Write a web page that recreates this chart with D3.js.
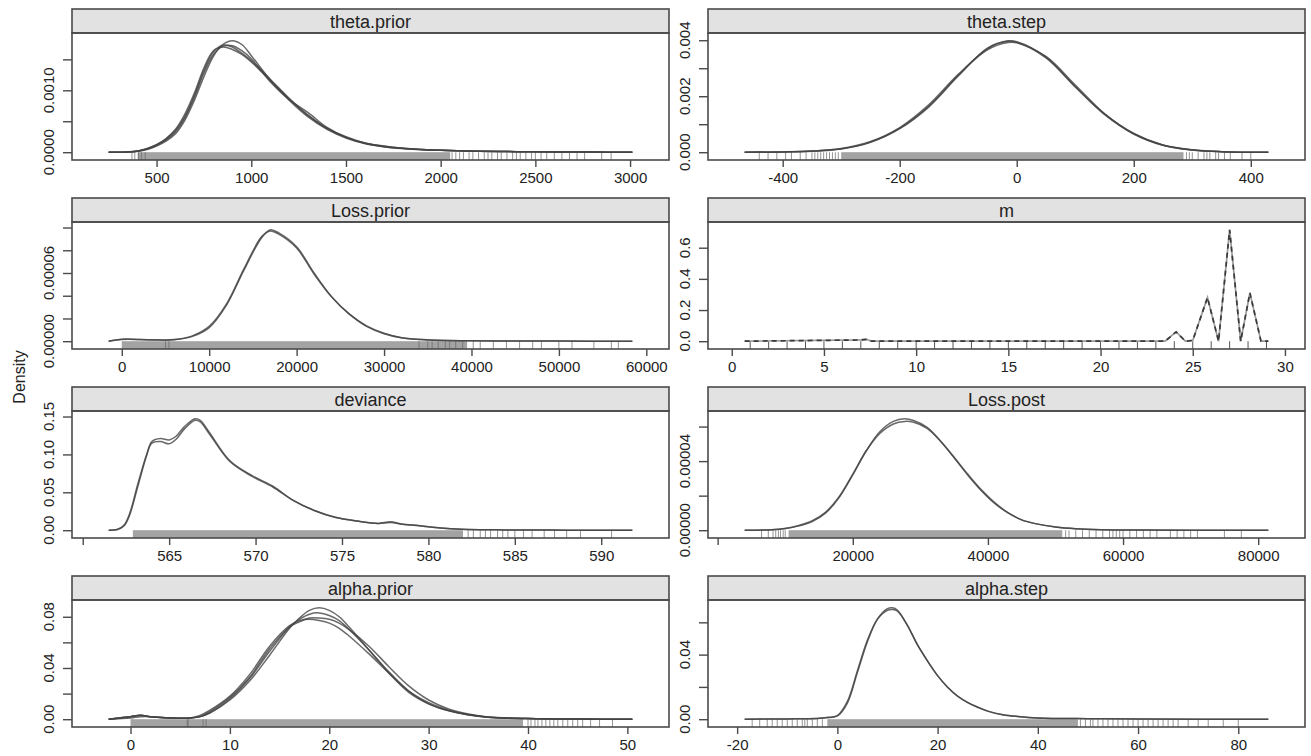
<!DOCTYPE html>
<html>
<head>
<meta charset="utf-8">
<script src="https://cdn.jsdelivr.net/npm/d3@7"></script>
<style>
  body { margin: 0; background: #fff; }
  text { font-family: "Liberation Sans", Arial, sans-serif; fill: #222; }
</style>
</head>
<body>
<div id="chart"></div>
<script>
'use strict';

// ---- data ----

// theta.prior (density in units of 1e-3)
const thetaPriorX = [247, 350, 400, 450, 500, 550, 600, 650, 700, 750, 800, 850, 900, 950, 1000, 1100, 1200, 1300, 1400, 1500, 1600, 1700, 1800, 1900, 2000, 2200, 2400, 2600, 2800, 3012];
const thetaPriorDens = [
  [0, 0.004, 0.015, 0.045, 0.10, 0.18, 0.30, 0.52, 0.84, 1.22, 1.55, 1.74, 1.80, 1.74, 1.56, 1.17, 0.84, 0.57, 0.37, 0.23, 0.14, 0.09, 0.06, 0.04, 0.03, 0.016, 0.009, 0.005, 0.002, 0],
  [0, 0.005, 0.020, 0.060, 0.12, 0.22, 0.37, 0.62, 0.96, 1.36, 1.64, 1.70, 1.66, 1.58, 1.46, 1.16, 0.86, 0.59, 0.39, 0.25, 0.15, 0.10, 0.065, 0.045, 0.032, 0.017, 0.009, 0.005, 0.002, 0],
  [0, 0.004, 0.017, 0.050, 0.11, 0.20, 0.33, 0.56, 0.89, 1.28, 1.58, 1.71, 1.72, 1.64, 1.51, 1.14, 0.85, 0.64, 0.40, 0.24, 0.14, 0.09, 0.06, 0.042, 0.03, 0.016, 0.009, 0.005, 0.002, 0],
  [0, 0.005, 0.018, 0.055, 0.12, 0.21, 0.35, 0.58, 0.92, 1.32, 1.62, 1.73, 1.70, 1.60, 1.48, 1.18, 0.87, 0.60, 0.38, 0.24, 0.15, 0.095, 0.062, 0.043, 0.03, 0.016, 0.009, 0.005, 0.002, 0]
];
const thetaPriorRugBand = [400, 2050];
const thetaPriorRug = [370, 385, 405, 420, 440, 2060, 2080, 2100, 2120, 2150, 2170, 2200, 2230, 2250, 2270, 2300, 2320, 2350, 2380, 2400, 2420, 2450, 2480, 2500, 2530, 2560, 2600, 2640, 2680, 2720, 2760, 2850, 2900];

// theta.step (1e-3)
const thetaStepX = [-465, -400, -350, -300, -250, -200, -150, -100, -50, -15, 0, 50, 100, 150, 200, 250, 300, 350, 430];
const thetaStepDens = [
  [0, 0.01, 0.04, 0.12, 0.36, 0.85, 1.65, 2.75, 3.70, 3.98, 3.95, 3.40, 2.35, 1.35, 0.65, 0.25, 0.08, 0.02, 0],
  [0, 0.01, 0.04, 0.13, 0.38, 0.88, 1.70, 2.78, 3.66, 3.92, 3.91, 3.42, 2.40, 1.38, 0.66, 0.25, 0.08, 0.02, 0],
  [0, 0.01, 0.03, 0.11, 0.35, 0.84, 1.62, 2.72, 3.72, 3.96, 3.93, 3.37, 2.33, 1.36, 0.67, 0.26, 0.09, 0.02, 0]
];
const thetaStepRugBand = [-300, 285];
const thetaStepRug = [-440, -425, -410, -395, -385, -370, -360, -350, -345, -340, -335, -330, -325, -320, -315, -310, -305, 290, 295, 300, 310, 320, 325, 330, 340, 345, 355, 365, 385, 400];

// Loss.prior (1e-5)
const lossPriorX = [-1500, 0, 2000, 4000, 6000, 8000, 10000, 12000, 14000, 16000, 17000, 18000, 20000, 22000, 24000, 26000, 28000, 30000, 32000, 35000, 40000, 45000, 50000, 58400];
const lossPriorDens = [
  [0, 0.18, 0.15, 0.10, 0.12, 0.40, 1.2, 3.2, 6.3, 9.1, 9.8, 9.5, 8.3, 6.0, 3.9, 2.4, 1.30, 0.65, 0.30, 0.10, 0.03, 0.015, 0.01, 0],
  [0, 0.15, 0.15, 0.12, 0.14, 0.45, 1.3, 3.3, 6.4, 9.2, 9.7, 9.4, 8.2, 5.9, 3.9, 2.4, 1.35, 0.70, 0.30, 0.12, 0.03, 0.015, 0.01, 0]
];
const lossPriorRugBand = [0, 39500];
const lossPriorRug = [5000, 5400, 34000, 35000, 35500, 36200, 37000, 37500, 38200, 39000, 40200, 41000, 42500, 44000, 45500, 47000, 48000, 50000, 51500, 54000, 56000, 56800];

// m (discrete)
const mX = [0.7, 7.0, 7.3, 7.6, 23.5, 24.1, 24.6, 25.0, 25.8, 26.4, 27.0, 27.6, 28.1, 28.7, 29.1];
const mDens = [
  [0, 0.008, 0.012, 0, 0, 0.06, 0, 0.005, 0.28, 0, 0.715, 0, 0.31, 0, 0]
];
const mRug = [1, 2, 3, 4, 5, 6, 7, 8, 9, 10, 11, 12, 13, 14, 15, 16, 17, 18, 19, 20, 21, 22, 23, 24, 25, 26, 27, 28, 29];

// deviance
const devianceX = [561.5, 562.0, 562.4, 562.7, 563.2, 563.7, 564.0, 564.5, 565.0, 565.4, 565.9, 566.5, 566.8, 567.3, 568.5, 569.8, 571.0, 572.2, 573.4, 574.6, 575.9, 577.1, 577.8, 578.5, 579.5, 580.7, 581.9, 584.4, 588, 591.8];
const devianceDens = [
  [0, 0.001, 0.006, 0.019, 0.059, 0.099, 0.117, 0.121, 0.119, 0.124, 0.137, 0.147, 0.145, 0.130, 0.092, 0.072, 0.058, 0.039, 0.026, 0.017, 0.012, 0.009, 0.010, 0.008, 0.006, 0.003, 0.0013, 0.0004, 0.0001, 0],
  [0, 0.001, 0.007, 0.021, 0.062, 0.100, 0.115, 0.117, 0.114, 0.120, 0.134, 0.145, 0.143, 0.128, 0.091, 0.071, 0.057, 0.039, 0.026, 0.017, 0.012, 0.009, 0.011, 0.008, 0.006, 0.003, 0.0013, 0.0004, 0.0001, 0]
];
const devianceRugBand = [562.9, 582];
const devianceRug = [582.3, 582.6, 583, 583.3, 583.6, 584, 584.3, 584.6, 585, 585.5, 586, 586.7, 587.3, 588, 588.8, 590.6];

// Loss.post (1e-5)
const lossPostX = [4000, 8000, 10000, 12000, 14000, 16000, 18000, 20000, 22000, 24000, 26000, 27700, 29000, 31000, 33000, 35000, 37000, 39000, 41000, 43000, 45000, 47000, 50000, 53000, 57000, 62000, 70000, 81500];
const lossPostDens = [
  [0, 0.03, 0.10, 0.25, 0.50, 1.00, 1.90, 3.20, 4.60, 5.70, 6.30, 6.45, 6.35, 5.95, 5.15, 4.20, 3.20, 2.30, 1.55, 1.00, 0.60, 0.38, 0.18, 0.08, 0.03, 0.01, 0.003, 0],
  [0, 0.03, 0.10, 0.27, 0.55, 1.05, 1.95, 3.25, 4.60, 5.60, 6.15, 6.30, 6.25, 5.90, 5.15, 4.22, 3.25, 2.35, 1.60, 1.00, 0.60, 0.38, 0.18, 0.08, 0.03, 0.01, 0.003, 0]
];
const lossPostRugBand = [10500, 51000];
const lossPostRug = [6500, 7500, 8200, 8600, 9000, 9300, 9700, 10000, 51500, 52000, 53000, 54000, 55000, 56000, 57000, 58000, 58500, 59000, 59500, 60000, 61000, 62000, 63000, 64000, 65000, 67000, 68000, 69000, 70000, 71000, 75000, 77500];

// alpha.prior
const alphaPriorX = [-2.2, 0, 1, 2, 4, 6, 7, 8, 10, 12, 14, 16, 17, 18, 19, 20, 21, 22, 24, 26, 28, 30, 32, 34, 36, 40, 45, 50.5];
const alphaPriorDens = [
  [0, 0.002, 0.003, 0.002, 0.001, 0.001, 0.002, 0.005, 0.015, 0.030, 0.050, 0.071, 0.079, 0.085, 0.087, 0.085, 0.080, 0.072, 0.054, 0.036, 0.021, 0.012, 0.0065, 0.0033, 0.0015, 0.0005, 0.0001, 0],
  [0, 0.002, 0.003, 0.002, 0.001, 0.001, 0.002, 0.005, 0.016, 0.032, 0.053, 0.072, 0.078, 0.082, 0.083, 0.081, 0.077, 0.070, 0.054, 0.037, 0.022, 0.012, 0.0068, 0.0035, 0.0015, 0.0005, 0.0001, 0],
  [0, 0.001, 0.002, 0.002, 0.001, 0.001, 0.002, 0.006, 0.017, 0.033, 0.055, 0.072, 0.076, 0.079, 0.079, 0.078, 0.075, 0.070, 0.057, 0.041, 0.026, 0.015, 0.008, 0.004, 0.0017, 0.0006, 0.0001, 0],
  [0, 0.002, 0.003, 0.002, 0.001, 0.001, 0.003, 0.007, 0.018, 0.035, 0.057, 0.073, 0.077, 0.078, 0.077, 0.075, 0.071, 0.065, 0.051, 0.036, 0.022, 0.013, 0.007, 0.0036, 0.0016, 0.0005, 0.0001, 0]
];
const alphaPriorRugBand = [0, 39.5];
const alphaPriorRug = [5.7, 5.8, 7.3, 7.6, 40, 40.3, 40.7, 41, 41.4, 41.8, 42.2, 42.6, 43, 43.5, 44, 44.5, 45, 45.5, 46.3, 47.2, 48.5];

// alpha.step
const alphaStepX = [-18.5, -10, -4, -2, 0, 2, 4, 6, 8, 10, 11, 12, 14, 16, 18, 20, 22, 24, 26, 28, 30, 33, 36, 40, 50, 60, 86];
const alphaStepDens = [
  [0, 0.0002, 0.0005, 0.001, 0.002, 0.010, 0.029, 0.048, 0.062, 0.0685, 0.069, 0.0675, 0.058, 0.046, 0.036, 0.027, 0.0198, 0.0142, 0.0103, 0.0074, 0.005, 0.0028, 0.0017, 0.0008, 0.0003, 0.0001, 0],
  [0, 0.0002, 0.0005, 0.001, 0.0022, 0.011, 0.030, 0.049, 0.062, 0.0675, 0.068, 0.067, 0.058, 0.046, 0.036, 0.027, 0.0198, 0.0143, 0.0104, 0.0075, 0.005, 0.0028, 0.0017, 0.0008, 0.0003, 0.0001, 0]
];
const alphaStepRugBand = [-2, 48];
const alphaStepRug = [-17, -15.5, -14, -13, -12, -11, -10, -9, -8, -7, -6.5, -6, -5, -4, -3, 48.5, 49.5, 50.5, 51, 52, 53, 54, 55, 56, 57, 58, 59, 60, 61, 62, 63, 64, 65, 66, 67, 68, 70, 72, 74, 77, 80];

// ticks left without a label in the picture
const unlabelledX = [["deviance", 560], ["Loss.post", 0]];

// panels in lattice order, row by row
const panels = [
  {name: 'theta.prior', x: thetaPriorX, dens: thetaPriorDens, unit: 1e-3, band: thetaPriorRugBand, rug: thetaPriorRug},
  {name: 'theta.step', x: thetaStepX, dens: thetaStepDens, unit: 1e-3, band: thetaStepRugBand, rug: thetaStepRug},
  {name: 'Loss.prior', x: lossPriorX, dens: lossPriorDens, unit: 1e-5, band: lossPriorRugBand, rug: lossPriorRug},
  {name: 'm', x: mX, dens: mDens, unit: 1, band: null, rug: mRug, discrete: true},
  {name: 'deviance', x: devianceX, dens: devianceDens, unit: 1, band: devianceRugBand, rug: devianceRug},
  {name: 'Loss.post', x: lossPostX, dens: lossPostDens, unit: 1e-5, band: lossPostRugBand, rug: lossPostRug},
  {name: 'alpha.prior', x: alphaPriorX, dens: alphaPriorDens, unit: 1, band: alphaPriorRugBand, rug: alphaPriorRug},
  {name: 'alpha.step', x: alphaStepX, dens: alphaStepDens, unit: 1, band: alphaStepRugBand, rug: alphaStepRug}
];

// ---- layout ----
const width = 1311, height = 756;
const colX = [72, 708];
const panelW = 597;
const rowPitch = 189, firstTop = 9;
const stripH = 24, plotH = 127;
const pad = 0.07; // lattice axis padding
const ink = '#4a4a4a';

const svg = d3.select('#chart').append('svg')
  .attr('width', width)
  .attr('height', height);

svg.append('text')
  .attr('transform', `translate(19, 377) rotate(-90)`)
  .attr('text-anchor', 'middle')
  .attr('dominant-baseline', 'central')
  .style('font-size', '16px')
  .text('Density');

panels.forEach((p, i) => {
  const col = i % 2, row = Math.floor(i / 2);
  const g = svg.append('g')
    .attr('transform', `translate(${colX[col]}, ${firstTop + row * rowPitch})`);

  // strip
  g.append('rect')
    .attr('width', panelW).attr('height', stripH)
    .attr('fill', '#e2e2e2')
    .attr('stroke', ink).attr('stroke-width', 1.6);
  g.append('text')
    .attr('x', panelW / 2).attr('y', stripH / 2 + 1)
    .attr('text-anchor', 'middle')
    .attr('dominant-baseline', 'central')
    .style('font-size', '18px')
    .text(p.name);

  const pg = g.append('g').attr('transform', `translate(0, ${stripH})`);

  // scales, padded like lattice
  const [x0, x1] = d3.extent(p.x);
  const xr = x1 - x0;
  const x = d3.scaleLinear()
    .domain([x0 - pad * xr, x1 + pad * xr])
    .range([0, panelW]);
  const ymax = d3.max(p.dens.flat()) * p.unit;
  const y = d3.scaleLinear()
    .domain([-pad * ymax, (1 + pad) * ymax])
    .range([plotH, 0]);

  // rug: dense band plus single ticks
  if (p.band) {
    pg.append('rect')
      .attr('x', x(p.band[0]))
      .attr('width', x(p.band[1]) - x(p.band[0]))
      .attr('y', y(0))
      .attr('height', plotH - y(0))
      .attr('fill', '#a3a3a3');
  }
  pg.append('g')
    .selectAll('line')
    .data(p.rug)
    .join('line')
    .attr('x1', d => x(d)).attr('x2', d => x(d))
    .attr('y1', y(0)).attr('y2', plotH)
    .attr('stroke', p.discrete ? '#444' : '#666')
    .attr('stroke-opacity', p.discrete ? 0.9 : 0.7)
    .attr('stroke-width', 1);

  // density curves
  const line = d3.line()
    .x((d, k) => x(p.x[k]))
    .y(d => y(d * p.unit))
    .curve(p.discrete ? d3.curveLinear : d3.curveCatmullRom.alpha(0.5));

  if (p.discrete) {
    pg.selectAll('path.solid').data(p.dens).join('path')
      .attr('class', 'solid')
      .attr('d', line)
      .attr('fill', 'none').attr('stroke', '#9a9a9a').attr('stroke-width', 1.7);
    pg.selectAll('path.dash').data(p.dens).join('path')
      .attr('class', 'dash')
      .attr('d', line)
      .attr('fill', 'none').attr('stroke', '#3a3a3a').attr('stroke-width', 1.7)
      .attr('stroke-dasharray', '5,4');
  } else {
    pg.selectAll('path.dens').data(p.dens).join('path')
      .attr('class', 'dens')
      .attr('d', line)
      .attr('fill', 'none')
      .attr('stroke', '#444')
      .attr('stroke-opacity', 0.8)
      .attr('stroke-width', 1.5);
  }

  // panel border
  pg.append('rect')
    .attr('width', panelW).attr('height', plotH)
    .attr('fill', 'none')
    .attr('stroke', ink).attr('stroke-width', 1.6);

  // x axis
  const hidden = unlabelledX.filter(u => u[0] === p.name).map(u => u[1]);
  const xAxis = pg.append('g')
    .attr('transform', `translate(0, ${plotH})`)
    .call(d3.axisBottom(x).ticks(5).tickSize(7).tickPadding(5)
      .tickFormat(d => hidden.includes(d) ? '' : String(d)));
  xAxis.select('.domain').remove();
  xAxis.selectAll('line').attr('stroke', ink).attr('stroke-width', 1.4);
  xAxis.selectAll('text')
    .attr('fill', '#222')
    .style('font-family', '"Liberation Sans", Arial, sans-serif')
    .style('font-size', '15px');

  // y axis: tick marks, rotated labels, overlapping labels dropped
  const yTicks = y.ticks(5);
  const yAxis = pg.append('g')
    .call(d3.axisLeft(y).tickValues(yTicks).tickSize(9).tickFormat(''));
  yAxis.select('.domain').remove();
  yAxis.selectAll('line').attr('stroke', ink).attr('stroke-width', 1.4);

  const step = yTicks.length > 1 ? yTicks[1] - yTicks[0] : ymax;
  const fmt = d3.format('.' + d3.precisionFixed(step) + 'f');
  let lastEnd = -Infinity;
  yTicks.forEach(t => {
    const lab = pg.append('text')
      .attr('transform', `translate(-24, ${y(t)}) rotate(-90)`)
      .attr('text-anchor', 'middle')
      .attr('dominant-baseline', 'central')
      .style('font-size', '15px')
      .text(fmt(t));
    const len = lab.node().getComputedTextLength();
    const pos = plotH - y(t);
    if (pos - len / 2 < lastEnd + 5) {
      lab.remove();
    } else {
      lastEnd = pos + len / 2;
    }
  });
});
</script>
</body>
</html>
